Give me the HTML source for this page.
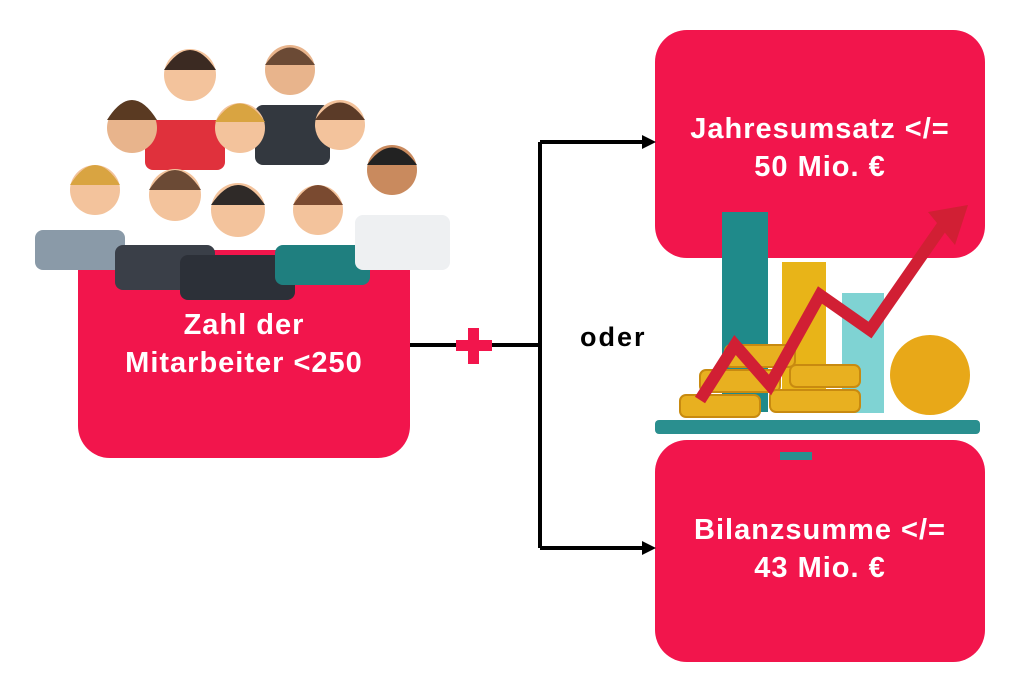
<!DOCTYPE html>
<html><head><meta charset="utf-8"><style>
body{margin:0;width:1024px;height:692px;background:#fff;position:relative;overflow:hidden;font-family:"Liberation Sans",sans-serif}
.box{position:absolute;background:#f2154c;color:#fff;font-weight:bold;text-align:center;font-size:29px;letter-spacing:1px;line-height:38px}
</style></head><body>
<div class="box" style="left:78px;top:250px;width:332px;height:208px;border-radius:0 0 32px 32px;"><div style="padding-top:56px">Zahl der<br>Mitarbeiter &lt;250</div></div>
<div class="box" style="left:655px;top:30px;width:330px;height:228px;border-radius:32px;"><div style="padding-top:80px">Jahresumsatz &lt;/=<br>50 Mio. €</div></div>
<div class="box" style="left:655px;top:440px;width:330px;height:222px;border-radius:32px;"><div style="padding-top:71px">Bilanzsumme &lt;/=<br>43 Mio. €</div></div>
<div style="position:absolute;left:580px;top:322px;font-size:27px;letter-spacing:2px;font-weight:bold">oder</div>
<svg width="1024" height="692" style="position:absolute;left:0;top:0">
<path d="M410 345H540M540 142V548M540 142H645M540 548H645" stroke="#000" stroke-width="4" fill="none"/>
<path d="M642 135L656 142L642 149Z M642 541L656 548L642 555Z" fill="#000"/>
<rect x="456" y="340" width="36" height="11" fill="#f2154c"/><rect x="468" y="328" width="11" height="36" fill="#f2154c"/>
<g>
<rect x="35" y="230" width="90" height="40" fill="#8a9aa8" rx="8"/>
<rect x="115" y="245" width="100" height="45" fill="#3a3f48" rx="8"/>
<rect x="180" y="255" width="115" height="45" fill="#2c3038" rx="8"/>
<rect x="275" y="245" width="95" height="40" fill="#1f7f7f" rx="8"/>
<rect x="355" y="215" width="95" height="55" fill="#eef0f2" rx="8"/>
<rect x="145" y="120" width="80" height="50" fill="#e0313c" rx="8"/>
<rect x="255" y="105" width="75" height="60" fill="#33383f" rx="8"/>
<circle cx="190" cy="75" r="26" fill="#f3c39c"/><path d="M164 70Q190 30 216 70Z" fill="#3b2a22"/>
<circle cx="290" cy="70" r="25" fill="#e8b48c"/><path d="M265 65Q290 30 315 65Z" fill="#6b4a35"/>
<circle cx="132" cy="128" r="25" fill="#e8b48c"/><path d="M107 120Q132 80 157 120Z" fill="#5a3a22"/>
<circle cx="240" cy="128" r="25" fill="#f3c39c"/><path d="M215 122Q240 85 265 122Z" fill="#d9a441"/>
<circle cx="340" cy="125" r="25" fill="#f3c39c"/><path d="M315 120Q340 85 365 120Z" fill="#5b3b28"/>
<circle cx="95" cy="190" r="25" fill="#f3c39c"/><path d="M70 185Q95 145 120 185Z" fill="#d9a441"/>
<circle cx="175" cy="195" r="26" fill="#f3c39c"/><path d="M149 190Q175 150 201 190Z" fill="#6b4a35"/>
<circle cx="238" cy="210" r="27" fill="#f3c39c"/><path d="M211 205Q238 165 265 205Z" fill="#2f2a28"/>
<circle cx="318" cy="210" r="25" fill="#f3c39c"/><path d="M293 205Q318 165 343 205Z" fill="#7a4a30"/>
<circle cx="392" cy="170" r="25" fill="#c98a5e"/><path d="M367 165Q392 130 417 165Z" fill="#222"/>
</g>
<rect x="722" y="212" width="46" height="200" fill="#1f8a8a"/>
<rect x="782" y="262" width="44" height="150" fill="#e8b418"/>
<rect x="842" y="293" width="42" height="120" fill="#7fd3d3"/>
<ellipse cx="930" cy="375" rx="40" ry="40" fill="#e8a818"/>
<g fill="#e8b020" stroke="#c88a10" stroke-width="2">
<rect x="680" y="395" width="80" height="22" rx="6"/><rect x="700" y="370" width="80" height="22" rx="6"/><rect x="725" y="345" width="70" height="22" rx="6"/>
<rect x="770" y="390" width="90" height="22" rx="6"/><rect x="790" y="365" width="70" height="22" rx="6"/>
</g>
<rect x="655" y="420" width="325" height="14" fill="#2a8f8f" rx="4"/>
<rect x="780" y="452" width="32" height="8" fill="#2a8f8f"/>
<path d="M700 400L735 345L770 385L820 295L870 330L945 222" stroke="#d11f34" stroke-width="12" fill="none"/>
<path d="M928 212L968 205L955 245Z" fill="#d11f34"/>
</svg>
</body></html>
